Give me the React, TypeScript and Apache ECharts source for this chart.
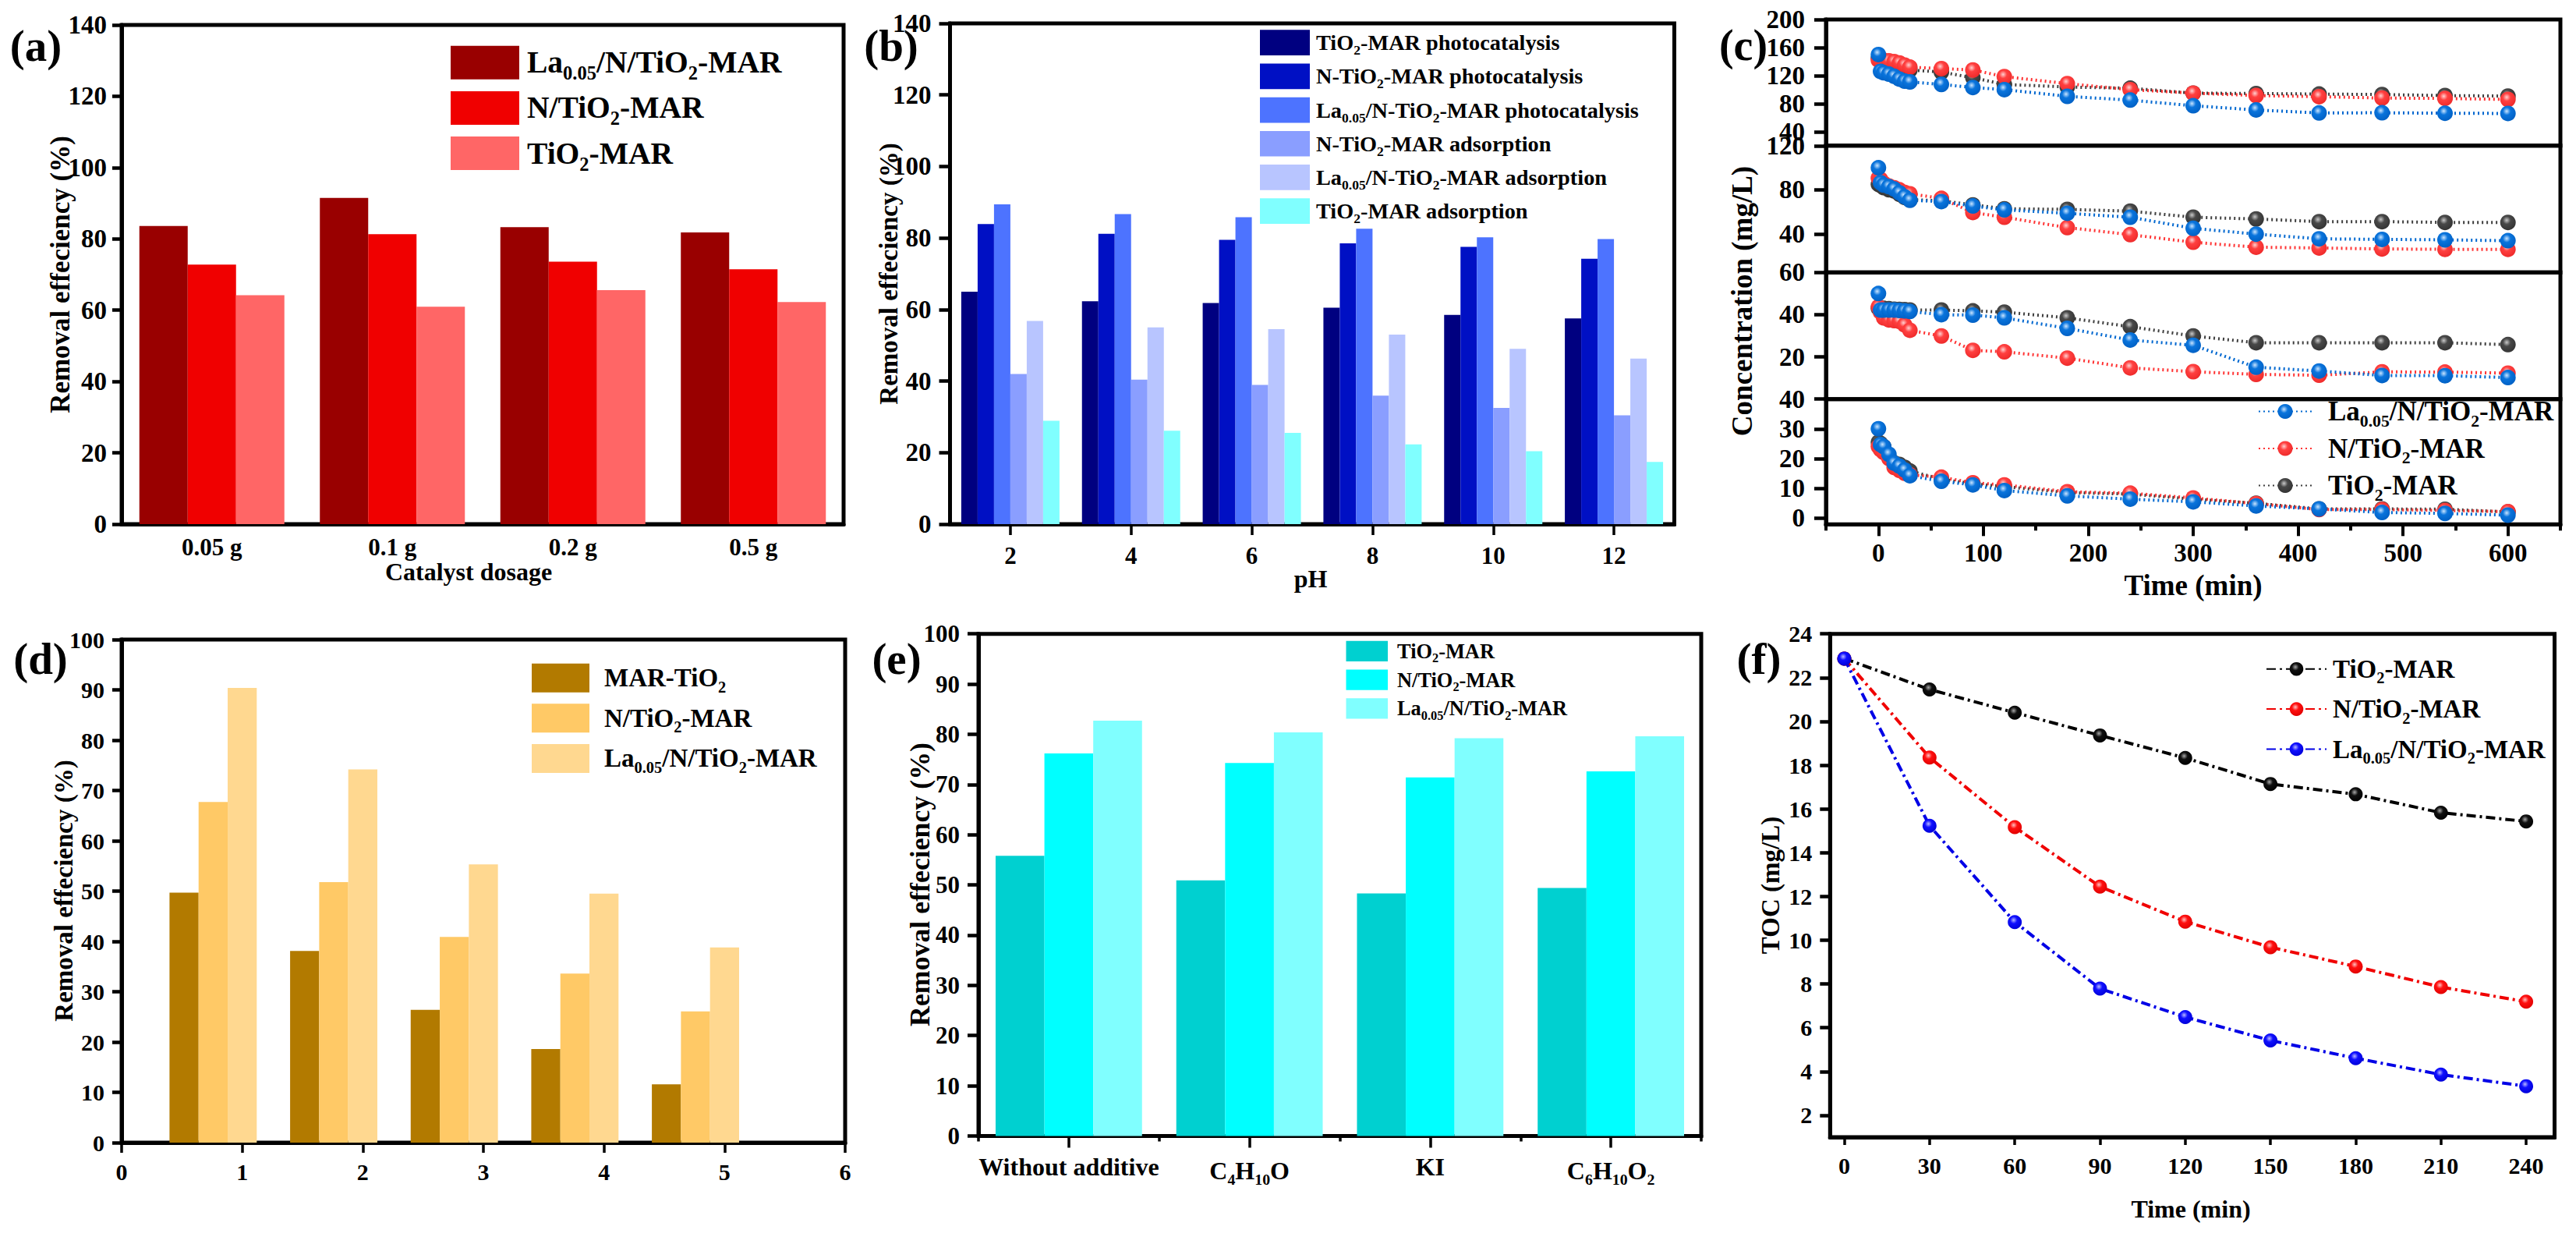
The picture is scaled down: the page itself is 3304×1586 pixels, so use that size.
import React, { useEffect, useRef } from "react";
import * as echarts from "echarts";

const FONT = "Liberation Serif";

// ---------- data ----------
const dosageLabels = ["0.05 g", "0.1 g", "0.2 g", "0.5 g"];
const aLa = [83.6, 91.5, 83.3, 81.8];
const aN = [72.8, 81.3, 73.6, 71.5];
const aTi = [64.2, 61, 65.6, 62.3];

const phLabels = ["2", "4", "6", "8", "10", "12"];
const bTiPhoto = [65, 62.3, 61.8, 60.5, 58.5, 57.5];
const bNPhoto = [83.9, 81.2, 79.5, 78.5, 77.5, 74.2];
const bLaPhoto = [89.4, 86.7, 85.8, 82.6, 80.2, 79.7];
const bNAds = [42, 40.4, 38.9, 35.9, 32.5, 30.4];
const bLaAds = [56.8, 55, 54.5, 53, 49, 46.3];
const bTiAds = [28.9, 26.1, 25.5, 22.3, 20.4, 17.4];

const cTimes = [0, 2, 5, 10, 15, 20, 25, 30, 60, 90, 120, 180, 240, 300, 360, 420, 480, 540, 600];
const c1Blue = [150, 126, 124, 122, 119, 115, 112, 111, 107.4, 103, 100, 90.4, 85, 77, 71, 66.7, 67, 66.3, 66];
const c1Red = [142, 142, 142, 141, 140, 138, 135, 132, 130, 128, 118.5, 108.5, 100, 95, 91.5, 90, 88, 87.4, 86];
const c1Black = [145, 142, 140, 138, 135, 132, 130, 128, 125, 117, 107.4, 103.7, 102, 95, 94.4, 93.7, 93, 91.5, 90.7];
const c2Blue = [100, 86.4, 84.3, 82.8, 80.7, 77.2, 73.6, 70.5, 69.3, 65.3, 61.8, 58.7, 55.1, 45, 39.8, 35.5, 35, 34.6, 33.8];
const c2Red = [90.6, 89.5, 85.9, 83.5, 81.9, 80, 77.6, 76.4, 72.2, 59.4, 55.1, 45.7, 39.3, 32.4, 27.9, 27.2, 26.3, 26, 26];
const c2Black = [85, 84, 82, 80, 79, 76, 73, 71, 70, 66.3, 62.8, 62.2, 60.6, 55.1, 53.5, 51.1, 51.1, 50.4, 50.4];
const c3Blue = [50, 42.2, 42.2, 42.2, 42.2, 42, 41.8, 41.5, 40, 39.8, 38.5, 33.5, 28, 25.5, 15.1, 13.3, 11.2, 11.1, 10.2];
const c3Red = [43.7, 41.2, 38.5, 37.5, 37.2, 36.8, 35.1, 32.6, 29.9, 23.1, 22.4, 19.4, 14.8, 13, 11.7, 11.3, 12.9, 12.8, 12.3];
const c3Black = [43, 43, 43, 42.8, 42.6, 42.5, 42.4, 42.2, 42.2, 41.8, 41.2, 38.5, 34.3, 29.9, 26.7, 26.7, 26.7, 26.7, 25.8];
const c4Blue = [30, 24.7, 24, 21.4, 18.4, 17.4, 16.1, 14.2, 12.3, 11.1, 9.2, 7.4, 6.3, 5.4, 4, 3, 1.8, 1.5, 0.9];
const c4Red = [24, 23, 22, 20, 17, 16, 15, 14.5, 13.7, 11.8, 11.1, 8.8, 8.3, 6.7, 4.8, 2.8, 2.8, 2.5, 2.1];
const c4Black = [25.5, 25, 24, 20.5, 18.5, 18, 17, 15.8, 13, 11.5, 10.5, 8.5, 8, 6.3, 4.9, 3, 3, 2.9, 2];
const cMajorTicks = [0, 100, 200, 300, 400, 500, 600];
const cMinorTicks = [-50, 50, 150, 250, 350, 450, 550, 650];
const c1Ticks = [40, 80, 120, 160, 200];
const c2Ticks = [40, 80, 120];
const c3Ticks = [20, 40, 60];
const c4Ticks = [0, 10, 20, 30, 40];

const dCycles = [1, 2, 3, 4, 5];
const dTi = [49.7, 38.1, 26.4, 18.6, 11.6];
const dN = [67.7, 51.8, 40.9, 33.6, 26.1];
const dLa = [90.4, 74.2, 55.3, 49.5, 38.8];

const eLabels = ["Without additive", "C4H10O", "KI", "C6H10O2"];
const eTi = [55.8, 50.9, 48.3, 49.4];
const eN = [76.2, 74.3, 71.4, 72.6];
const eLa = [82.7, 80.4, 79.2, 79.6];

const fTimes = [0, 30, 60, 90, 120, 150, 180, 210, 240];
const fBlack = [22.87, 21.46, 20.4, 19.36, 18.33, 17.14, 16.67, 15.83, 15.43];
const fRed = [22.87, 18.35, 15.17, 12.45, 10.85, 9.68, 8.8, 7.86, 7.19];
const fBlue = [22.87, 15.23, 10.83, 7.79, 6.49, 5.42, 4.61, 3.86, 3.33];
const fYTicks = [2, 4, 6, 8, 10, 12, 14, 16, 18, 20, 22, 24];

// ---------- helpers ----------
const markup = (s: string) =>
  s
    .split(/(\d+(?:\.\d+)?)/)
    .map((p, i) => (p === "" ? "" : i % 2 ? `{s|${p}}` : `{t|${p}}`))
    .join("");

const richFor = (size: number) => ({
  t: { fontFamily: FONT, fontWeight: "bold", fontSize: size, color: "#000" },
  s: {
    fontFamily: FONT,
    fontWeight: "bold",
    fontSize: size * 0.62,
    color: "#000",
    verticalAlign: "bottom",
    lineHeight: Math.round(size * 1.3),
  },
});

const ball = (hi: string, mid: string, lo: string) => ({
  type: "radial",
  x: 0.42,
  y: 0.36,
  r: 0.66,
  colorStops: [
    { offset: 0, color: hi },
    { offset: 0.38, color: mid },
    { offset: 1, color: lo },
  ],
});

const grids: any[] = [];
const xAxes: any[] = [];
const yAxes: any[] = [];
const series: any[] = [];
const legends: any[] = [];
const graphics: any[] = [];

const BORDER = 5;

function addGrid(left: number, top: number, width: number, height: number) {
  grids.push({
    left,
    top,
    width,
    height,
    show: true,
    borderColor: "#000",
    borderWidth: BORDER,
    backgroundColor: "transparent",
  });
  return grids.length - 1;
}

function labelStyle(size: number, margin: number, extra: any = {}) {
  return {
    fontFamily: FONT,
    fontWeight: "bold",
    fontSize: size,
    color: "#000",
    margin,
    hideOverlap: false,
    ...extra,
  };
}

function addY(g: number, o: any) {
  const ax: any = {
    type: "value",
    gridIndex: g,
    min: o.min,
    max: o.max,
    splitLine: { show: false },
    axisLine: { show: true, onZero: false, lineStyle: { color: "#000", width: BORDER } },
    axisTick: { show: true, length: o.tick, lineStyle: { color: "#000", width: 4.5 } },
    axisLabel: labelStyle(o.size, o.margin),
  };
  if (o.interval) ax.interval = o.interval;
  if (o.values) {
    ax.axisTick.customValues = o.values;
    ax.axisLabel.customValues = o.values;
  }
  yAxes.push(ax);
  return yAxes.length - 1;
}

function addCatX(g: number, data: string[], o: any) {
  xAxes.push({
    type: "category",
    gridIndex: g,
    position: "bottom",
    data,
    splitLine: { show: false },
    axisLine: { show: true, onZero: false, lineStyle: { color: "#000", width: BORDER } },
    axisTick: o.tick
      ? { show: true, alignWithLabel: true, interval: 0, length: o.tick, lineStyle: { color: "#000", width: 3.5 } }
      : { show: false },
    axisLabel: labelStyle(o.size, o.margin, { interval: 0, ...(o.labelExtra || {}) }),
  });
  return xAxes.length - 1;
}

function addBars(prefix: string, names: string[], colors: string[], arrays: number[][], x: number, y: number, w: number) {
  names.forEach((n, i) => {
    series.push({
      type: "bar",
      name: `${prefix}:${n}`,
      xAxisIndex: x,
      yAxisIndex: y,
      data: arrays[i],
      barWidth: w,
      barGap: 0,
      itemStyle: { color: colors[i] },
    });
  });
}

function addLegend(
  prefix: string,
  names: string[],
  left: number,
  firstCentre: number,
  pitch: number,
  iconW: number,
  iconH: number,
  size: number,
  textGap: number,
  icon?: string
) {
  const lh = size * 1.2;
  const h = Math.max(iconH, lh);
  const legend: any = {
    show: true,
    orient: "vertical",
    left,
    top: firstCentre - h / 2,
    padding: 0,
    itemWidth: iconW,
    itemHeight: iconH,
    itemGap: pitch - h,
    data: names.map((n) => `${prefix}:${n}`),
    formatter: (name: string) => markup(name.split(":")[1]),
    textStyle: {
      fontFamily: FONT,
      fontWeight: "bold",
      fontSize: size,
      color: "#000",
      padding: [0, 0, 0, textGap],
      rich: richFor(size),
    },
  };
  if (icon) legend.icon = icon;
  legends.push(legend);
}

function addText(text: string, x: number, y: number, size: number, rotated = false) {
  graphics.push({
    type: "text",
    x,
    y,
    rotation: rotated ? Math.PI / 2 : 0,
    z: 50,
    style: {
      text,
      fontFamily: FONT,
      fontWeight: "bold",
      fontSize: size,
      fill: "#000",
      align: "center",
      verticalAlign: "middle",
    },
  });
}

// ---------- panel (a) ----------
{
  const g = addGrid(156, 32, 926, 640);
  const x = addCatX(g, dosageLabels, { size: 31, margin: 14 });
  const y = addY(g, { min: 0, max: 140, interval: 20, size: 33, margin: 19, tick: 12 });
  const names = ["La0.05/N/TiO2-MAR", "N/TiO2-MAR", "TiO2-MAR"];
  addBars("a", names, ["#990000", "#F00000", "#FF6666"], [aLa, aN, aTi], x, y, 62);
  addLegend("a", names, 578, 82.5, 58.5, 88, 43, 39.5, 5, "rect");
  addText("(a)", 46, 58, 57);
  addText("Removal effeciency (%)", 77, 352, 35, true);
  addText("Catalyst dosage", 601, 733, 32);
}

// ---------- panel (b) ----------
{
  const g = addGrid(1218.5, 30, 929, 642);
  const x = addCatX(g, phLabels, { size: 31, margin: 25, tick: 14 });
  const y = addY(g, { min: 0, max: 140, interval: 20, size: 33, margin: 24, tick: 14 });
  const names = [
    "TiO2-MAR photocatalysis",
    "N-TiO2-MAR photocatalysis",
    "La0.05/N-TiO2-MAR photocatalysis",
    "N-TiO2-MAR adsorption",
    "La0.05/N-TiO2-MAR adsorption",
    "TiO2-MAR adsorption",
  ];
  addBars(
    "b",
    names,
    ["#000080", "#0010C4", "#4D73FF", "#8A9EFF", "#B8C5FF", "#80FFFF"],
    [bTiPhoto, bNPhoto, bLaPhoto, bNAds, bLaAds, bTiAds],
    x,
    y,
    21
  );
  addLegend("b", names, 1616, 55.3, 42.3, 64, 32.7, 28.3, 3, "rect");
  addText("(b)", 1143, 58, 57);
  addText("Removal effeciency (%)", 1140, 351, 33, true);
  addText("pH", 1681, 742, 32);
}

// ---------- panel (c) ----------
{
  const left = 2342;
  const width = 942;
  const rows = [
    { top: 25, h: 161.8, min: 20, max: 200, ticks: c1Ticks, data: [c1Black, c1Red, c1Blue] },
    { top: 186.8, h: 162.5, min: 5, max: 120, ticks: c2Ticks, data: [c2Black, c2Red, c2Blue] },
    { top: 349.3, h: 162.4, min: 0, max: 60, ticks: c3Ticks, data: [c3Black, c3Red, c3Blue] },
    { top: 511.7, h: 160.6, min: -2.2, max: 40, ticks: c4Ticks, data: [c4Black, c4Red, c4Blue] },
  ];
  const names = ["TiO2-MAR", "N/TiO2-MAR", "La0.05/N/TiO2-MAR"];
  const colors = ["#3F3F3F", "#FF3333", "#0068D0"];
  const balls = [
    ball("#C8C8C8", "#484848", "#333333"),
    ball("#FFD0D0", "#FF4040", "#EE2A2A"),
    ball("#C8E4FF", "#0A74DC", "#0060C4"),
  ];
  rows.forEach((r, ri) => {
    const g = addGrid(left, r.top, width, r.h);
    xAxes.push({
      type: "value",
      gridIndex: g,
      position: "bottom",
      min: -50,
      max: 650,
      show: ri === 3,
      splitLine: { show: false },
      axisLine: { show: true, onZero: false, lineStyle: { color: "#000", width: BORDER } },
      axisTick: { show: true, length: 15, customValues: cMajorTicks, lineStyle: { color: "#000", width: 4 } },
      axisLabel: labelStyle(33, 20, { customValues: cMajorTicks }),
    });
    const x = xAxes.length - 1;
    const y = addY(g, { min: r.min, max: r.max, values: r.ticks, size: 33, margin: 27, tick: 15 });
    r.data.forEach((arr, i) => {
      series.push({
        type: "line",
        name: `c${ri}:${names[i]}`,
        xAxisIndex: x,
        yAxisIndex: y,
        data: cTimes.map((t, k) => [t, arr[k]]),
        symbol: "circle",
        symbolSize: 20,
        clip: false,
        itemStyle: { color: balls[i] },
        lineStyle: { color: colors[i], width: 4, type: [2, 4] },
      });
    });
    if (ri === 3) {
      xAxes.push({
        type: "value",
        gridIndex: g,
        position: "bottom",
        min: -50,
        max: 650,
        splitLine: { show: false },
        axisLine: { show: false, onZero: false },
        axisTick: { show: true, length: 8, customValues: cMinorTicks, lineStyle: { color: "#000", width: 4 } },
        axisLabel: { show: false },
      });
    }
  });
  addLegend("c3", [names[2], names[1], names[0]], 2896, 531, 49, 68, 24, 35, 16);
  addText("(c)", 2236, 58, 56);
  addText("Concentration (mg/L)", 2234, 386, 37, true);
  addText("Time (min)", 2813, 750, 37);
}

// ---------- panel (d) ----------
{
  const g = addGrid(156, 820, 928, 645);
  xAxes.push({
    type: "value",
    gridIndex: g,
    position: "bottom",
    min: 0,
    max: 6,
    interval: 1,
    splitLine: { show: false },
    axisLine: { show: true, onZero: false, lineStyle: { color: "#000", width: BORDER } },
    axisTick: { show: true, length: 13, lineStyle: { color: "#000", width: 3.5 } },
    axisLabel: labelStyle(30, 22),
  });
  const x = xAxes.length - 1;
  const y = addY(g, { min: 0, max: 100, interval: 10, size: 30, margin: 22, tick: 12 });
  const names = ["MAR-TiO2", "N/TiO2-MAR", "La0.05/N/TiO2-MAR"];
  addBars(
    "d",
    names,
    ["#B27A00", "#FFC966", "#FFD890"],
    [dTi, dN, dLa].map((a) => a.map((v, i) => [dCycles[i], v])) as any,
    x,
    y,
    37.3
  );
  // two empty slots so that the third bar of each group sits on the tick
  ["d:slot1", "d:slot2"].forEach((name) =>
    series.push({ type: "bar", name, xAxisIndex: x, yAxisIndex: y, data: [], barWidth: 37.3, barGap: 0 })
  );
  addLegend("d", names, 682, 870.5, 51.2, 74, 37, 33, 14, "rect");
  addText("(d)", 52, 844, 57);
  addText("Removal effeciency (%)", 82, 1142, 33, true);
}

// ---------- panel (e) ----------
{
  const g = addGrid(1255, 812.7, 927, 643.8);
  const x = addCatX(g, eLabels, {
    size: 32,
    margin: 23,
    tick: 15,
    labelExtra: { formatter: (v: string) => markup(v), rich: richFor(32) },
  });
  xAxes.push({
    type: "category",
    gridIndex: g,
    position: "bottom",
    data: eLabels,
    axisLine: { show: false, onZero: false },
    axisTick: { show: true, length: 7, interval: 0, lineStyle: { color: "#000", width: 3.5 } },
    axisLabel: { show: false },
    splitLine: { show: false },
  });
  const y = addY(g, { min: 0, max: 100, interval: 10, size: 31, margin: 24, tick: 14 });
  const names = ["TiO2-MAR", "N/TiO2-MAR", "La0.05/N/TiO2-MAR"];
  addBars("e", names, ["#00D0D0", "#00FFFF", "#80FFFF"], [eTi, eN, eLa], x, y, 62.6);
  addLegend("e", names, 1726.5, 837.5, 38.3, 53.5, 26.3, 26.4, 7, "rect");
  addText("(e)", 1150, 844, 57);
  addText("Removal effeciency (%)", 1180, 1134, 35.8, true);
}

// ---------- panel (f) ----------
{
  const g = addGrid(2347.3, 812.7, 929.2, 645.3);
  xAxes.push({
    type: "value",
    gridIndex: g,
    position: "bottom",
    min: -5,
    max: 250,
    splitLine: { show: false },
    axisLine: { show: true, onZero: false, lineStyle: { color: "#000", width: BORDER } },
    axisTick: { show: true, length: 10, customValues: fTimes, lineStyle: { color: "#000", width: 3.5 } },
    axisLabel: labelStyle(30, 21, { customValues: fTimes }),
  });
  const x = xAxes.length - 1;
  const y = addY(g, { min: 1, max: 24, values: fYTicks, size: 30, margin: 23, tick: 13 });
  const names = ["TiO2-MAR", "N/TiO2-MAR", "La0.05/N/TiO2-MAR"];
  const colors = ["#000000", "#F00000", "#0000E6"];
  const balls = [
    ball("#A8A8A8", "#101010", "#000000"),
    ball("#FFC0C0", "#FF1010", "#E00000"),
    ball("#B8B8FF", "#1010FF", "#0000D8"),
  ];
  [fBlack, fRed, fBlue].forEach((arr, i) => {
    series.push({
      type: "line",
      name: `f:${names[i]}`,
      xAxisIndex: x,
      yAxisIndex: y,
      data: fTimes.map((t, k) => [t, arr[k]]),
      symbol: "circle",
      symbolSize: 18,
      clip: false,
      itemStyle: { color: balls[i] },
      lineStyle: { color: colors[i], width: 4, type: [12, 5, 3, 5] },
    });
  });
  addLegend("f", names, 2906, 861, 53, 77, 22, 33, 3);
  addText("(f)", 2256, 844, 57);
  addText("TOC (mg/L)", 2270.5, 1135, 33, true);
  addText("Time (min)", 2810, 1550, 32);
}

const option: any = {
  animation: false,
  backgroundColor: "#ffffff",
  grid: grids,
  xAxis: xAxes,
  yAxis: yAxes,
  series,
  legend: legends,
  graphic: { elements: graphics },
};

export default function App() {
  const ref = useRef<HTMLDivElement>(null);
  useEffect(() => {
    const chart = echarts.init(ref.current as HTMLDivElement, undefined, { renderer: "svg" });
    chart.setOption(option);
    return () => chart.dispose();
  }, []);
  return <div ref={ref} style={{ position: "absolute", left: 0, top: 0, width: 3304, height: 1586 }} />;
}
